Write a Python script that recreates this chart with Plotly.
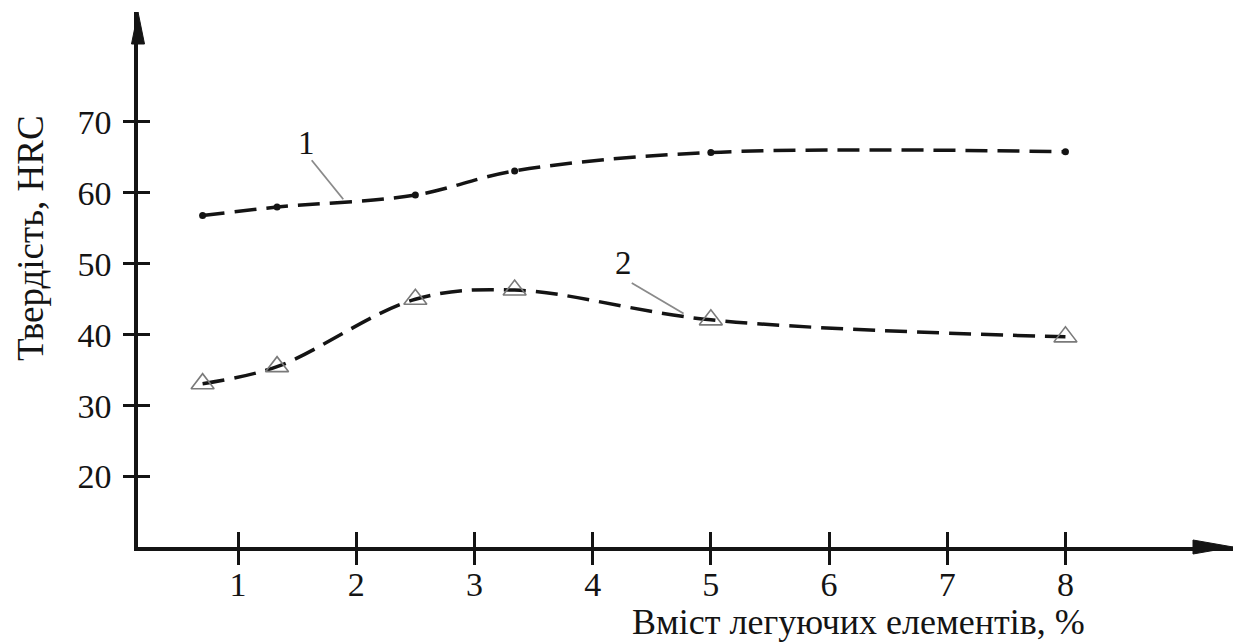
import plotly.graph_objects as go

# ---- data ----
alloy_pct = [0.7, 1.33, 2.5, 3.34, 5.0, 8.0]
hardness_1 = [56.8, 58.0, 59.7, 63.1, 65.7, 65.8]
hardness_2 = [33.1, 35.5, 45.0, 46.3, 42.1, 39.7]
x_ticks = [1, 2, 3, 4, 5, 6, 7, 8]
y_ticks = [20, 30, 40, 50, 60, 70]
curve_labels = ["1", "2"]

# ---- layout geometry ----
W, H = 1242, 644
ML, MR, MT, MB = 138, 9, 12, 97
PW, PH = W - ML - MR, H - MT - MB
X_RANGE = [0.1535, 9.4175]
Y_RANGE = [10.07, 85.51]
FONT = "Liberation Serif"
INK = "#141414"

dash = "22px,10px"

fig = go.Figure()

fig.add_trace(go.Scatter(
    x=alloy_pct, y=hardness_1, mode="lines+markers",
    line=dict(color=INK, width=3.5, dash=dash, shape="spline", smoothing=1.0),
    marker=dict(symbol="circle", size=7, color=INK),
    xaxis="x", yaxis="y", showlegend=False, hoverinfo="skip"))

fig.add_trace(go.Scatter(
    x=alloy_pct, y=hardness_2, mode="lines+markers",
    line=dict(color=INK, width=3.5, dash=dash, shape="spline", smoothing=1.0),
    marker=dict(symbol="triangle-up-open", size=20, color="#7a7a7a",
                line=dict(width=1.6, color="#7a7a7a")),
    xaxis="x2", yaxis="y2", showlegend=False, hoverinfo="skip"))

axis_common = dict(showgrid=False, zeroline=False, showline=True,
                   linecolor=INK, linewidth=3.5, tickcolor=INK, tickwidth=3)

fig.update_layout(
    width=W, height=H,
    margin=dict(l=ML, r=MR, t=MT, b=MB, pad=0),
    paper_bgcolor="white", plot_bgcolor="white",
    font=dict(family=FONT, color=INK, size=32),
    xaxis=dict(range=X_RANGE, tickmode="array", tickvals=x_ticks,
               ticktext=[str(v) for v in x_ticks],
               ticks="outside", ticklen=14, ticklabelstandoff=-10,
               tickfont=dict(family=FONT, size=34, color=INK), **axis_common),
    yaxis=dict(range=Y_RANGE, tickmode="array", tickvals=y_ticks,
               ticktext=[str(v) for v in y_ticks],
               ticks="outside", ticklen=11, ticklabelstandoff=5,
               tickfont=dict(family=FONT, size=34, color=INK), **axis_common),
    xaxis2=dict(range=X_RANGE, matches="x", overlaying="x", anchor="y2",
                tickmode="array", tickvals=x_ticks, showticklabels=False,
                ticks="inside", ticklen=15, **axis_common),
    yaxis2=dict(range=Y_RANGE, matches="y", overlaying="y", anchor="x2",
                tickmode="array", tickvals=y_ticks, showticklabels=False,
                ticks="inside", ticklen=12, **axis_common),
)

# arrowheads on the axes (paper coordinates)
ax_len, ax_half = 40 / PW, 7 / PH
ay_len, ay_half = 32 / PH, 6.5 / PW
fig.add_shape(type="path", xref="paper", yref="paper",
              path=f"M 1 0 L {1-ax_len} {ax_half} L {1-ax_len} {-ax_half} Z",
              fillcolor=INK, line=dict(color=INK, width=1))
fig.add_shape(type="path", xref="paper", yref="paper",
              path=f"M 0 1 L {-ay_half} {1-ay_len} L {ay_half} {1-ay_len} Z",
              fillcolor=INK, line=dict(color=INK, width=1))

# axis titles
fig.add_annotation(text="Твердість, HRC", xref="paper", yref="paper",
                   x=0, y=(547 - 238) / PH, xshift=-107, textangle=-90,
                   showarrow=False, font=dict(family=FONT, size=37, color=INK),
                   xanchor="center", yanchor="middle")
fig.add_annotation(text="Вміст легуючих елементів, %", xref="paper", yref="paper",
                   x=(858 - ML) / PW, y=0, yshift=-(MB - 1),
                   showarrow=False, font=dict(family=FONT, size=36, color=INK),
                   xanchor="center", yanchor="bottom", borderpad=0)

# curve labels with leader lines
label_pos = [(1.575, 67.0), (4.257, 50.1)]
leaders = [((1.623, 64.6), (1.89, 59.1)), ((4.331, 47.3), (4.769, 43.0))]
for txt, (lx, ly), ((x0, y0), (x1, y1)) in zip(curve_labels, label_pos, leaders):
    fig.add_annotation(text=txt, x=lx, y=ly, xref="x", yref="y", showarrow=False,
                       font=dict(family=FONT, size=33, color=INK))
    fig.add_shape(type="line", xref="x", yref="y", x0=x0, y0=y0, x1=x1, y1=y1,
                  line=dict(color="#8a8a8a", width=1.8))

fig.write_html("out.html")
